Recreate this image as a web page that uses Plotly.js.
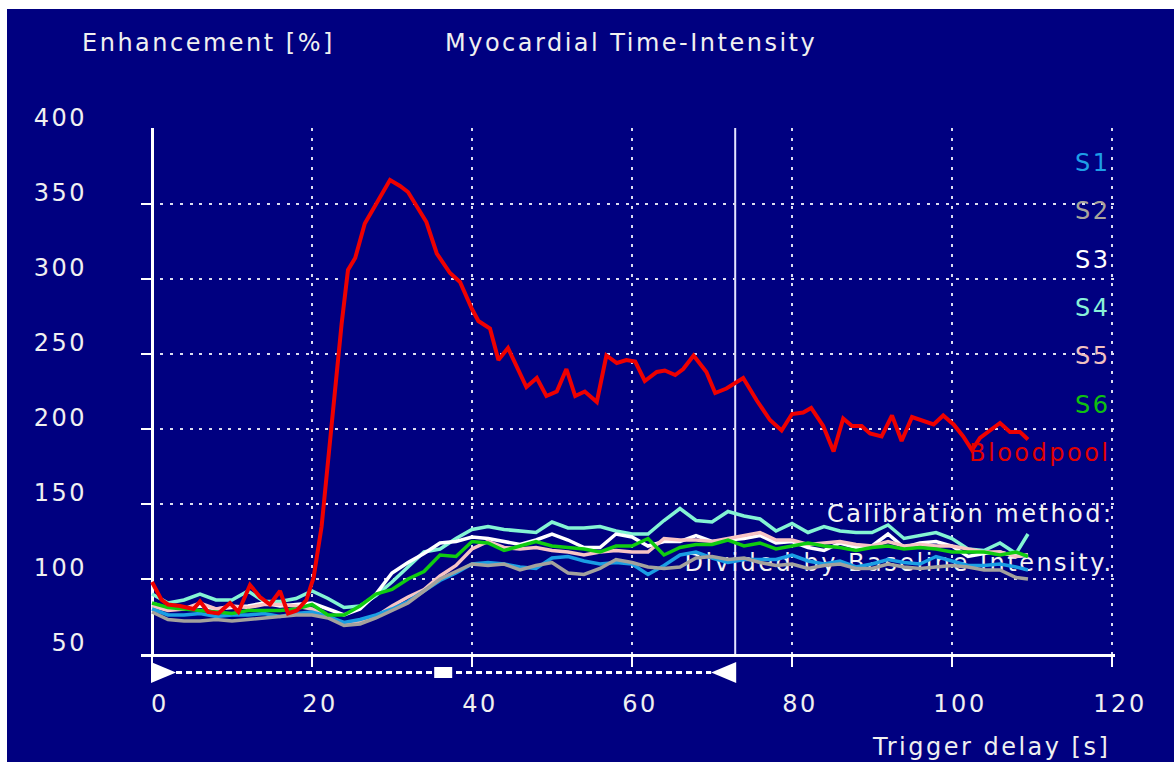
<!DOCTYPE html>
<html>
<head>
<meta charset="utf-8">
<script src="https://cdn.plot.ly/plotly-3.0.1.min.js"></script>
<style>
  html, body { margin: 0; padding: 0; background: #ffffff; }
  #chart { position: absolute; left: 7px; top: 9px; width: 1167px; height: 753px; }
  svg text { letter-spacing: 2.5px; }
</style>
</head>
<body>
<div id="chart"></div>
<script>
// Trigger delay [s] for the six myocardial segments
const segmentTime = [0,2,4,6,8,10,12,14,16,18,20,22,24,26,28,30,32,34,36,38,40,42,44,46,48,50,52,54,56,58,
  60,62,64,66,68,70,72,74,76,78,80,82,84,86,88,90,92,94,96,98,100,102,104,106,108,109.5];

// Enhancement [%] per segment
const s1 = [80,76,76,77,75,76,76,77,75,77, 78,75,71,73,76,80,85,92,99,104,
  110,111,110,108,107,114,115,112,110,111, 110,103,109,116,118,114,111,113,113,113,
  116,112,110,112,108,110,113,111,110,115, 112,109,109,110,108,106];
const s2 = [78,73,72,72,73,72,73,74,75,76, 76,74,69,70,74,79,84,92,100,105,
  110,109,110,106,109,111,104,103,107,113, 111,108,107,108,114,115,113,114,111,109,
  110,107,109,110,107,107,110,108,107,108, 109,108,106,106,101,100];
const s3 = [84,80,80,82,80,81,82,84,82,83, 84,80,76,80,90,104,111,117,124,125,
  128,127,125,123,126,130,126,121,121,130, 128,122,125,125,129,125,126,127,129,124,
  125,121,119,124,121,122,130,121,124,125, 122,115,117,118,115,116];
const s4 = [90,84,86,90,86,86,92,85,85,87, 92,87,81,82,89,98,108,118,120,127,
  133,135,133,132,131,138,134,134,135,132, 130,130,139,147,139,138,145,142,140,132,
  137,131,135,132,131,131,136,127,129,131, 127,120,119,124,117,130];
const s5 = [82,79,80,84,80,82,81,83,83,82, 80,75,70,72,75,82,88,93,102,109,
  120,125,121,120,121,119,118,116,118,119, 118,118,127,126,126,125,127,129,131,126,
  126,123,124,125,123,122,125,122,123,122, 122,120,118,118,115,116];
const s6 = [84,81,80,79,78,77,79,79,79,80, 83,76,76,82,90,93,100,105,116,115,
  125,124,119,122,125,122,121,120,118,122, 122,127,116,121,123,123,126,122,124,120,
  122,124,122,121,119,121,122,120,121,120, 118,118,118,116,118,115];

// Blood pool curve
const bloodTime = [0,1.2,2.0,3.5,5.2,6.0,7.0,8.3,9.75,10.8,
  12.25,13.5,14.75,16.0,17.0,18.1,19.3,20.2,21.2,22.0,
  22.9,23.7,24.5,25.4,26.6,28.5,29.75,31.0,32.0,34.3,
  35.6,37.25,38.5,40.0,40.8,42.25,43.3,44.5,46.8,48.1,
  49.3,50.6,51.8,52.9,54.1,55.6,56.8,58.1,59.3,60.4,
  61.6,63.1,64.1,65.4,66.4,67.7,69.3,70.4,71.8,73.9,
  75.6,77.25,78.7,80.0,81.4,82.4,83.9,85.2,86.4,87.5,
  88.7,89.75,91.2,92.5,93.7,95.0,96.2,97.7,98.9,100.2,
  101.4,102.5,103.5,104.75,106.0,107.25,108.5,109.5];
const bloodpool = [98,86,83,82,80,85,78,77,84,78,
  96,88,83,92,77,79,86,101,135,179,
  225,270,306,314,337,355,366,362,358,338,
  317,304,298,280,272,267,246,254,228,234,
  222,225,240,222,225,218,249,244,246,245,
  232,238,239,236,240,249,238,224,227,234,
  219,206,199,210,211,214,202,185,207,202,
  202,197,195,209,192,208,206,203,209,203,
  195,186,194,199,204,198,198,193];

const xTicks = [0,20,40,60,80,100,120];
const yTicks = [50,100,150,200,250,300,350,400];
const seriesNames = ['S1','S2','S3','S4','S5','S6','Bloodpool'];
const noteLines = ['Calibration method:', 'Divided by Baseline Intensity.'];

// Time window markers on the scan bar under the axis
const cursorT = 72.9;
const windowStart = 0;
const windowMid = 36.4;

const colors = {
  S1: '#1a9ee4', S2: '#a4a29c', S3: '#ffffff', S4: '#84f4d4',
  S5: '#f8c4c4', S6: '#10cc10', Bloodpool: '#ee0000'
};
const labelColors = {
  S1: '#1e9ee6', S2: '#a8a49c', S3: '#ffffff', S4: '#88f0d8',
  S5: '#f0c0c0', S6: '#10c010', Bloodpool: '#e00000'
};

const xr = [-1.375, 120.375];
const yr = [50, 400.67];
const toPaperX = v => (v - xr[0]) / (xr[1] - xr[0]);

const FONT = 'DejaVu Sans, Verdana, sans-serif';

function seg(name, y) {
  return {
    x: segmentTime, y: y, type: 'scatter', mode: 'lines', name: name,
    line: {color: colors[name], width: 3.5}, hoverinfo: 'skip'
  };
}

const traces = [
  {
    x: [120.2, 120.2], y: [142, 109.3], mode: 'text', text: noteLines,
    textposition: 'middle left', textfont: {family: FONT, size: 24, color: '#f4f4f4'},
    hoverinfo: 'skip', cliponaxis: false, showlegend: false
  },
  seg('S4', s4), seg('S3', s3), seg('S5', s5), seg('S1', s1), seg('S2', s2), seg('S6', s6),
  {
    x: bloodTime, y: bloodpool, type: 'scatter', mode: 'lines', name: 'Bloodpool',
    line: {color: colors.Bloodpool, width: 4}, hoverinfo: 'skip'
  }
];

const labelY = [377.3, 345.3, 312.7, 280.7, 248.7, 216, 184];
const annotations = seriesNames.map((n, i) => ({
  text: n, xref: 'x', yref: 'y', x: 120.1, y: labelY[i], xanchor: 'right', yanchor: 'middle',
  showarrow: false, font: {family: FONT, size: 24, color: labelColors[n]}
}));
annotations.push({
  text: 'Enhancement [%]', xref: 'paper', yref: 'paper', x: -0.0626, y: 1.1616,
  xanchor: 'left', yanchor: 'middle', showarrow: false,
  font: {family: FONT, size: 24, color: '#f0f0f0'}
});
annotations.push({
  text: 'Trigger delay [s]', xref: 'paper', yref: 'paper', x: 0.997, y: -0.176,
  xanchor: 'right', yanchor: 'middle', showarrow: false,
  font: {family: FONT, size: 24, color: '#f0f0f0'}
});

const shapes = [
  // cursor line
  {type: 'line', xref: 'x', yref: 'paper', x0: cursorT, x1: cursorT, y0: 0, y1: 1,
   line: {color: '#e4e4ff', width: 2}, layer: 'below'},
  // scan bar: start arrow
  {type: 'path', xref: 'paper', yref: 'paper', xsizemode: 'pixel', ysizemode: 'pixel',
   xanchor: toPaperX(windowStart), yanchor: 0,
   path: 'M-1,-8 L24,-18.5 L-1,-29 Z', fillcolor: '#ffffff', line: {width: 0}},
  // scan bar: dashed track
  {type: 'line', xref: 'paper', yref: 'paper', ysizemode: 'pixel', yanchor: 0,
   x0: toPaperX(windowStart) + 24 / 974, x1: toPaperX(cursorT) - 24 / 974, y0: -18.5, y1: -18.5,
   line: {color: '#ffffff', width: 3, dash: '6px,4px'}},
  // scan bar: position marker
  {type: 'path', xref: 'paper', yref: 'paper', xsizemode: 'pixel', ysizemode: 'pixel',
   xanchor: toPaperX(windowMid), yanchor: 0,
   path: 'M-9,-13 L9,-13 L9,-24 L-9,-24 Z', fillcolor: '#ffffff', line: {width: 0}},
  // scan bar: end arrow
  {type: 'path', xref: 'paper', yref: 'paper', xsizemode: 'pixel', ysizemode: 'pixel',
   xanchor: toPaperX(cursorT), yanchor: 0,
   path: 'M1,-8 L-24,-18.5 L1,-29 Z', fillcolor: '#ffffff', line: {width: 0}}
];

const axisCommon = {
  showgrid: true, gridcolor: '#dcdcf0', gridwidth: 2.5, griddash: '3px,6.7px',
  tickcolor: '#ffffff', tickwidth: 2, tickmode: 'array',
  tickfont: {family: FONT, size: 24, color: '#f0f0f0'}, fixedrange: true
};

const layout = {
  width: 1167, height: 753,
  margin: {l: 134, r: 59, t: 119, b: 108, pad: 0},
  paper_bgcolor: '#000080', plot_bgcolor: '#000080',
  font: {family: FONT, size: 24, color: '#ffffff'},
  showlegend: false, hovermode: false,
  title: {
    text: 'Myocardial Time-Intensity', xref: 'container', yref: 'container',
    x: 0.3753, xanchor: 'left', y: 0.9548, yanchor: 'middle',
    font: {family: FONT, size: 24, color: '#f0f0f0'}
  },
  xaxis: Object.assign({}, axisCommon, {
    range: xr, tickvals: xTicks, ticks: 'outside', ticklen: 10,
    showline: true, linecolor: '#ffffff', linewidth: 3,
    zeroline: true, zerolinecolor: '#ffffff', zerolinewidth: 3,
    ticklabelstandoff: 16, ticklabelshift: 8
  }),
  yaxis: Object.assign({}, axisCommon, {
    range: yr, tickvals: yTicks, ticks: 'inside', ticklen: 11,
    showline: false, zeroline: false,
    ticklabelstandoff: 53, ticklabelshift: -11
  }),
  annotations: annotations,
  shapes: shapes
};

Plotly.newPlot('chart', traces, layout, {staticPlot: true, displayModeBar: false});
</script>
</body>
</html>
